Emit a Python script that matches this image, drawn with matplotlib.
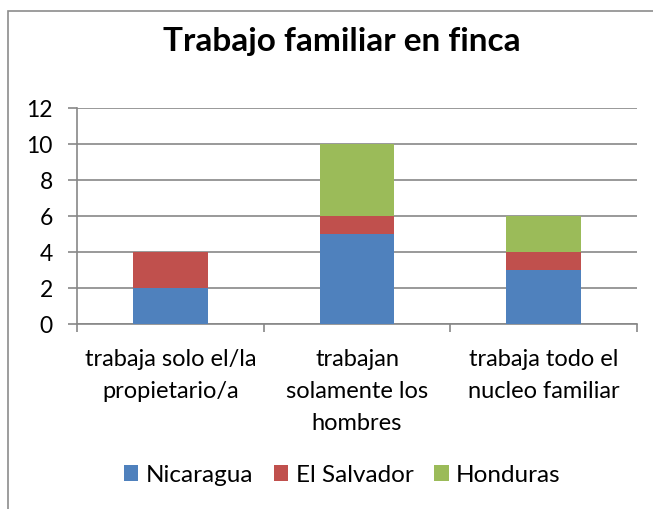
import matplotlib.pyplot as plt
import matplotlib.patches as patches
import numpy as np

categories = ['trabaja solo el/la\npropietario/a', 'trabajan\nsolamente los\nhombres', 'trabaja todo el\nnucleo familiar']
nicaragua = [2, 5, 3]
el_salvador = [2, 1, 1]
honduras = [0, 4, 2]
series_names = ['Nicaragua', 'El Salvador', 'Honduras']
colors = ['#4F81BD', '#C0504D', '#9BBB59']

plt.rcParams['font.family'] = ['Lato', 'DejaVu Sans']

W, H = 653, 510
fig = plt.figure(figsize=(W / 100, H / 100), dpi=100)

# chart border (cropped on right and bottom)
fig.patches.append(patches.Rectangle((8 / W, -0.1), 2, 1 - 12 / H + 0.1, transform=fig.transFigure,
                                     fill=False, edgecolor='#8c8c8c', linewidth=1.2))

ax = fig.add_axes([77 / W, 1 - 325 / H, (637 - 77) / W, (325 - 109) / H])

x = np.arange(len(categories))
bottom = np.zeros(len(categories))
for name, vals, c in zip(series_names, [nicaragua, el_salvador, honduras], colors):
    ax.bar(x, vals, 0.4, bottom=bottom, color=c, label=name, zorder=3)
    bottom += np.array(vals)

ax.set_xlim(-0.5, 2.5)
ax.set_ylim(0, 12)
ax.set_yticks(range(0, 13, 2))
ax.grid(axis='y', color='#878787', linewidth=1.2, zorder=0)
ax.set_xticks(x)
ax.set_xticklabels(categories, fontsize=17, linespacing=1.66)
ax.tick_params(axis='x', length=0, pad=17)
ax.set_xticks([-0.5, 0.5, 1.5, 2.5], minor=True)
ax.tick_params(axis='x', which='minor', length=6, color='#878787', width=1.2)
ax.tick_params(axis='y', length=6.5, color='#878787', width=1.2, labelsize=16.5, pad=11)
for s in ['top', 'right']:
    ax.spines[s].set_visible(False)
for s in ['left', 'bottom']:
    ax.spines[s].set_color('#878787')
    ax.spines[s].set_linewidth(1.2)

fig.text(0.523, 1 - 42 / H, 'Trabajo familiar en finca', ha='center', va='center',
         fontsize=24, fontweight='bold')

fig.legend(loc='center', bbox_to_anchor=(0.524, 1 - 476 / H), ncol=3, frameon=False,
           fontsize=17.5, handlelength=0.6, handleheight=0.6, handletextpad=0.3, columnspacing=0.85)

fig.savefig('out.png', dpi=100)
